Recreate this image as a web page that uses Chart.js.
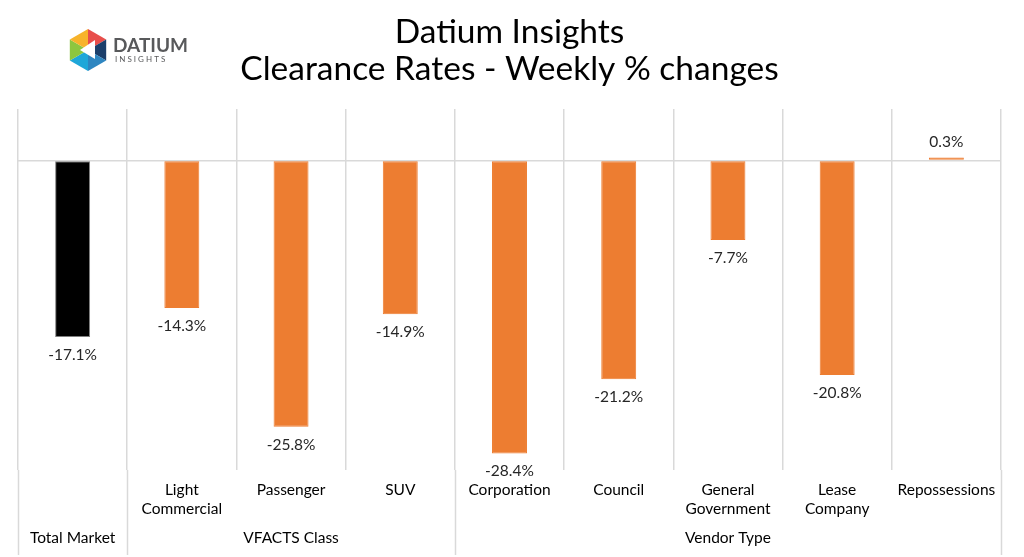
<!DOCTYPE html>
<html>
<head>
<meta charset="utf-8">
<script src="https://cdn.jsdelivr.net/npm/chart.js@4"></script>
<style>
  html, body { margin: 0; padding: 0; background: #fff; }
  #wrap { width: 1024px; height: 557px; }
</style>
</head>
<body>
<div id="wrap"><canvas id="chart" width="1024" height="557"></canvas></div>
<script>
// values
const categories = ["", ["Light", "Commercial"], "Passenger", "SUV", "Corporation", "Council",
  ["General", "Government"], ["Lease", "Company"], "Repossessions"];
const weeklyChange = [-17.1, -14.3, -25.8, -14.9, -28.4, -21.2, -7.7, -20.8, 0.3];
const groupNames = ["Total Market", "VFACTS Class", "Vendor Type"];
const groupStart = [0, 1, 4];
const groupEnd = [0, 3, 8];

const FONT = "Lato, 'DejaVu Sans', sans-serif";
const barColors = weeklyChange.map((v, i) => i === 0 ? "#000000" : "#ED7D31");

// group separators, group labels, value labels, logo
const extras = {
  id: "extras",
  afterDraw(chart) {
    const ctx = chart.ctx;
    const x = chart.scales.x;
    const area = chart.chartArea;
    const half = (x.getPixelForValue(1) - x.getPixelForValue(0)) / 2;
    ctx.save();

    // long separators between groups
    ctx.strokeStyle = "#d9d9d9";
    ctx.lineWidth = 1.5;
    const edges = [x.getPixelForValue(0) - half];
    groupEnd.forEach(e => edges.push(x.getPixelForValue(e) + half));
    edges.forEach(px => {
      ctx.beginPath();
      ctx.moveTo(Math.round(px) + 0.5, area.bottom);
      ctx.lineTo(Math.round(px) + 0.5, 555);
      ctx.stroke();
    });

    // group labels
    ctx.fillStyle = "#000";
    ctx.font = "15.5px " + FONT;
    ctx.textAlign = "center";
    ctx.textBaseline = "middle";
    groupNames.forEach((g, i) => {
      const cx = (x.getPixelForValue(groupStart[i]) + x.getPixelForValue(groupEnd[i])) / 2;
      ctx.fillText(g, cx, 538);
    });

    // value labels
    ctx.fillStyle = "#262626";
    const meta = chart.getDatasetMeta(0);
    meta.data.forEach((bar, i) => {
      const v = weeklyChange[i];
      const ty = v < 0 ? bar.y + 18 : bar.y - 15;
      ctx.fillText(v.toFixed(1) + "%", bar.x, ty);
    });

    // logo
    const lx = 88, ly = 50, r = 21;
    const cols = ["#E84E4B", "#1B3F6B", "#2E86C1", "#1FA7D9", "#8DC63F", "#F7B32B"];
    for (let k = 0; k < 6; k++) {
      const a1 = -Math.PI / 2 + k * Math.PI / 3;
      const a2 = a1 + Math.PI / 3;
      ctx.beginPath();
      ctx.moveTo(lx, ly);
      ctx.lineTo(lx + r * Math.cos(a1), ly + r * Math.sin(a1));
      ctx.lineTo(lx + r * Math.cos(a2), ly + r * Math.sin(a2));
      ctx.closePath();
      ctx.fillStyle = cols[k];
      ctx.fill();
    }
    ctx.beginPath();
    ctx.moveTo(lx + 7, ly - 10);
    ctx.lineTo(lx + 7, ly + 9);
    ctx.lineTo(lx - 8, ly);
    ctx.closePath();
    ctx.fillStyle = "#fff";
    ctx.fill();
    ctx.fillStyle = "#58595B";
    ctx.textAlign = "left";
    ctx.font = "bold 19px " + FONT;
    ctx.fillText("DATIUM", 113, 46);
    ctx.font = "8px " + FONT;
    ctx.fillText("I N S I G H T S", 115, 59);
    ctx.restore();
  }
};

new Chart(document.getElementById("chart"), {
  type: "bar",
  data: {
    labels: categories,
    datasets: [{
      data: weeklyChange,
      backgroundColor: barColors,
      borderColor: weeklyChange.map((v, i) => i === 0 ? "#7f7f7f" : "#ED7D31"),
      borderWidth: 1,
      borderSkipped: false,
      categoryPercentage: 1,
      barPercentage: 0.32
    }]
  },
  options: {
    responsive: false,
    animation: false,
    layout: { padding: { left: 18, right: 23, top: 0, bottom: 0 } },
    plugins: {
      legend: { display: false },
      tooltip: { enabled: false },
      title: {
        display: true,
        text: ["Datium Insights", "Clearance Rates - Weekly % changes"],
        color: "#000",
        font: { family: FONT, size: 33.5, weight: "normal", lineHeight: "37px" },
        padding: { top: 14, bottom: 21 }
      }
    },
    scales: {
      x: {
        grid: { color: "#d9d9d9", lineWidth: 1.5, drawTicks: false, offset: true },
        border: { display: false },
        ticks: {
          color: "#000",
          font: { family: FONT, size: 15.5, lineHeight: 1.22 },
          padding: 11,
          maxRotation: 0,
          autoSkip: false
        },
        afterFit(s) { s.height = 87; }
      },
      y: {
        min: -30,
        max: 5,
        ticks: { display: false, stepSize: 5 },
        grid: {
          drawTicks: false,
          lineWidth: 1.5,
          color: c => c.tick && c.tick.value === 0 ? "#d9d9d9" : "rgba(0,0,0,0)"
        },
        border: { display: false },
        afterFit(s) { s.width = 0; }
      }
    }
  },
  plugins: [extras]
});
</script>
</body>
</html>
